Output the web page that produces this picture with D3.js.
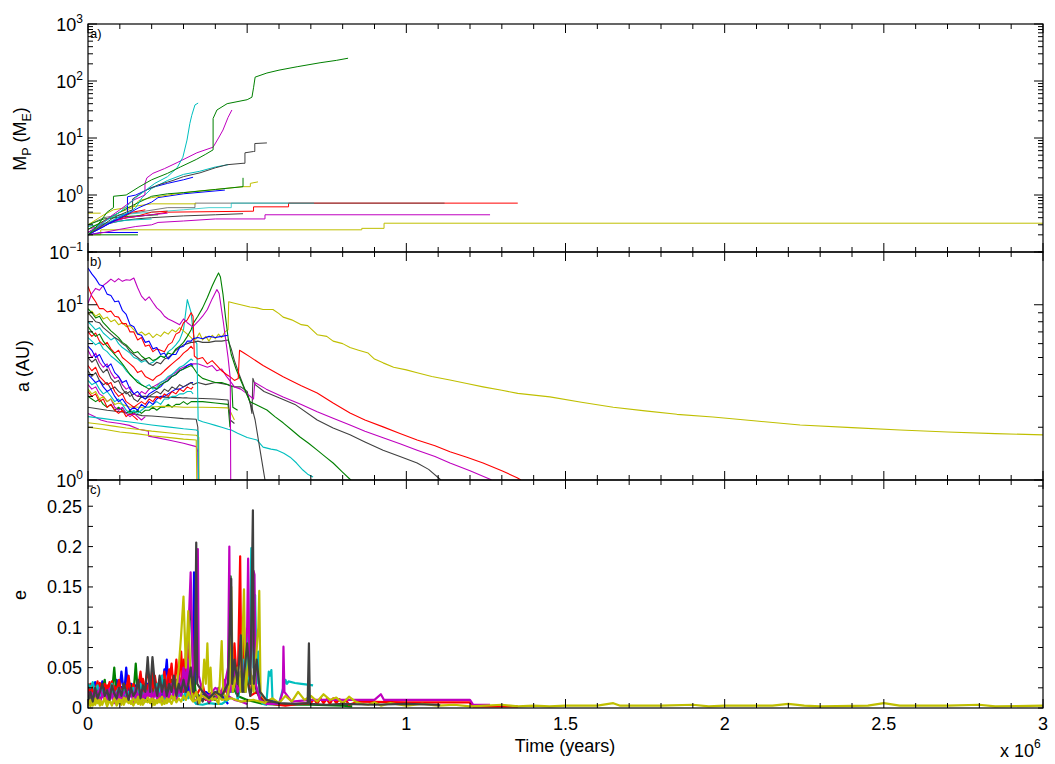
<!DOCTYPE html>
<html>
<head>
<meta charset="utf-8">
<style>
  body { margin: 0; background: #fff; }
  text { font-family: "Liberation Sans", Arial, Helvetica, sans-serif; fill: #000; }
</style>
</head>
<body>
<svg id="fig" width="1055" height="764"></svg>
<script src="https://d3js.org/d3.v7.min.js"></script>
<script>

// ---------- colours (old matlab colour order) ----------
var C = { b: "#0000ff", g: "#008000", r: "#ff0000", c: "#00bfbf", m: "#bf00bf", y: "#bfbf00", k: "#404040" };

// ---------- panel a: planet mass (earth masses) vs time (x 10^6 yr) ----------
var mGreenGiant = [[0,0.2],[0.02,0.25],[0.04,0.35],[0.06,0.5],[0.08,0.6],[0.08,0.95],[0.12,1.0],[0.16,1.38],[0.2,1.85],[0.25,2.4],[0.29,3.1],[0.34,4.2],[0.37,5.2],[0.393,6.2],[0.393,22],[0.405,31],[0.437,40],[0.5,47],[0.515,52],[0.52,76],[0.525,117],[0.562,138],[0.6,155],[0.657,178],[0.729,209],[0.78,230],[0.817,251]];
var mCyanGiant = [[0,0.2],[0.02,0.26],[0.04,0.3],[0.07,0.4],[0.1,0.5],[0.13,0.7],[0.15,0.9],[0.18,1.2],[0.21,1.6],[0.25,2.1],[0.28,3.0],[0.298,4.6],[0.311,9.2],[0.32,18],[0.326,25],[0.336,38],[0.346,41]];
var mMagGiant = [[0,0.22],[0.03,0.28],[0.06,0.38],[0.1,0.55],[0.14,0.8],[0.179,1.0],[0.179,1.6],[0.185,2.0],[0.204,2.4],[0.24,2.9],[0.28,3.7],[0.342,5.5],[0.393,6.9],[0.41,10],[0.424,13.8],[0.44,23],[0.452,31]];
var mGrayBig = [[0,0.2],[0.04,0.28],[0.08,0.4],[0.12,0.5],[0.14,0.55],[0.14,0.85],[0.18,1.2],[0.22,1.5],[0.267,1.8],[0.3,2.1],[0.352,2.45],[0.4,3.0],[0.437,3.4],[0.487,3.6],[0.493,3.6],[0.493,5.5],[0.52,5.8],[0.524,5.8],[0.524,8.0],[0.562,8.2]];
var mCyan2 = [[0,0.22],[0.05,0.3],[0.1,0.42],[0.13,0.5],[0.15,0.6],[0.17,0.9],[0.2,1.3],[0.25,1.8],[0.3,2.3],[0.35,2.6],[0.4,3.1],[0.44,3.4]];
var mGreen2 = [[0,0.25],[0.05,0.35],[0.1,0.5],[0.15,0.7],[0.2,0.95],[0.25,1.05],[0.3,1.1],[0.4,1.25],[0.487,1.4],[0.487,2.0]];
var mBlue1 = [[0,0.2],[0.05,0.28],[0.1,0.42],[0.124,0.47],[0.124,0.93],[0.15,1.0],[0.2,1.35],[0.25,1.6],[0.3,1.85],[0.33,2.05]];
var mBlue2 = [[0,0.2],[0.06,0.3],[0.12,0.45],[0.16,0.6],[0.2,0.75],[0.22,0.9],[0.3,1.05],[0.43,1.22]];
var mYellow1 = [[0,0.25],[0.05,0.35],[0.1,0.5],[0.14,0.6],[0.16,0.8],[0.2,0.9],[0.3,1.1],[0.4,1.25],[0.487,1.4],[0.51,1.4],[0.51,1.6],[0.534,1.7]];
var mRed1 = [[0,0.22],[0.04,0.3],[0.08,0.35],[0.12,0.4],[0.2,0.45],[0.25,0.5],[0.52,0.52],[0.52,0.62],[0.63,0.62],[0.63,0.72],[1.35,0.72]];
var mGray2 = [[0,0.3],[0.05,0.4],[0.1,0.45],[0.16,0.5],[0.25,0.6],[0.336,0.6],[0.336,0.72],[1.12,0.72]];
var mCyan3 = [[0,0.25],[0.05,0.35],[0.1,0.45],[0.2,0.5],[0.3,0.55],[0.38,0.6],[0.45,0.6],[0.45,0.72],[0.71,0.72]];
var mMag2 = [[0,0.2],[0.05,0.22],[0.1,0.25],[0.15,0.28],[0.2,0.3],[0.22,0.33],[0.3,0.35],[0.4,0.38],[0.556,0.38],[0.556,0.45],[1.263,0.45]];
var mGray3 = [[0,0.22],[0.05,0.3],[0.1,0.35],[0.15,0.38],[0.2,0.4],[0.3,0.43],[0.4,0.45],[0.487,0.47]];
var mYellowLong = [[0,0.2],[0.04,0.2],[0.04,0.245],[0.86,0.245],[0.86,0.26],[0.93,0.26],[0.93,0.32],[3.0,0.32]];
var mBlue3 = [[0,0.2],[0.04,0.22],[0.157,0.22]];
var mGreen3 = [[0,0.2],[0.157,0.2]];
var mYellow2 = [[0,0.48],[0.04,0.48]];
var mYellow3 = [[0,0.3],[0.05,0.45],[0.08,0.55],[0.12,0.6],[0.16,0.65],[0.2,0.7],[0.34,0.7]];
var mRed2 = [[0,0.22],[0.05,0.3],[0.1,0.38],[0.15,0.42],[0.2,0.5],[0.25,0.52]];
var mCyan4 = [[0,0.28],[0.06,0.32],[0.12,0.36],[0.2,0.38]];
var mGreen4 = [[0,0.3],[0.05,0.38],[0.12,0.42],[0.22,0.45]];
var mRed3 = [[0,0.2],[0.03,0.25],[0.06,0.32],[0.1,0.38],[0.14,0.5],[0.18,0.55]];
var mMag3 = [[0,0.25],[0.05,0.3],[0.12,0.4],[0.2,0.45],[0.25,0.48]];

// ---------- panel b: semi-major axis (AU) ----------
// early part of each track sampled on a shared time grid
var tB = [0,0.012,0.024,0.036,0.048,0.06,0.072,0.084,0.096,0.108,0.12,0.132,0.144,0.156,0.168,0.18,0.192,0.204,0.216,0.228,0.24,0.252,0.264,0.276,0.288,0.3,0.312,0.324,0.33];

var aBlueA = [16.2,15.0,14.1,13.0,12.8,11.5,11.3,10.4,10.5,9.3, 8.8,7.7,7.5,6.8,6.7,6.1,6.2,5.6,5.7,5.2, 5.3,4.9,5.2,5.2,5.7,5.8,6.2,6.2,6.4];
var aBlueATail = [[0.345,6.5],[0.36,6.4],[0.38,6.6],[0.4,6.5],[0.42,6.6],[0.44,6.7]];
var aMagA = [10.2,11.6,12.4,12.1,12.9,13.4,14.0,13.5,14.1,13.6, 13.9,13.8,14.2,12.5,11.2,10.6,11.1,10.3,9.6,9.2, 8.6,8.3,8.1,7.9,7.7,8.3,7.9,7.6,7.5];
var aMagATail = [[0.345,8.0],[0.36,8.6],[0.375,9.4],[0.39,10.8],[0.405,12.2],[0.412,11.6],[0.425,8.0],[0.44,5.0],[0.447,3.8],[0.449,0.5]];
var aRedA = [12.7,11.2,10.4,9.5,9.5,9.1,9.2,8.6,8.5,7.8, 7.8,7.0,7.0,6.3,6.5,5.8,5.9,5.4,5.6,5.5, 5.4,5.9,6.1,6.8,7.0,7.9,8.2,9.0,8.6];
var aRedATail = [[0.334,5.1],[0.345,4.9],[0.36,5.0],[0.375,4.6],[0.39,4.8],[0.405,4.5],[0.42,4.2],[0.435,4.0],[0.445,3.9],[0.46,3.7],[0.472,3.8],[0.476,5.5],[0.49,5.3],[0.509,5.04],[0.55,4.5],[0.613,3.88],[0.67,3.45],[0.72,3.14],[0.77,2.75],[0.823,2.41],[0.87,2.2],[0.927,2.01],[0.98,1.84],[1.034,1.69],[1.09,1.57],[1.137,1.45],[1.19,1.35],[1.241,1.25],[1.3,1.13],[1.348,1.03],[1.36,1.0]];
var aGreenA = [9.5,9.0,8.4,8.6,7.9,7.5,7.1,6.8,6.5,6.1, 5.9,5.6,5.3,5.4,5.1,4.9,5.0,4.8,4.9,5.1, 5.0,5.3,5.2,5.6,5.8,6.1,6.6,7.2,7.8];
var aGreenATail = [[0.345,8.6],[0.36,9.6],[0.375,11.0],[0.39,12.8],[0.4,14.0],[0.41,15.2],[0.416,14.4],[0.424,11.5],[0.432,8.5],[0.44,6.5],[0.45,5.2],[0.465,4.3],[0.48,3.7],[0.495,3.2],[0.509,2.8],[0.535,2.65],[0.562,2.51],[0.587,2.3],[0.613,2.12],[0.64,1.93],[0.666,1.76],[0.693,1.62],[0.72,1.48],[0.745,1.36],[0.77,1.25],[0.797,1.12],[0.823,1.01],[0.83,0.98]];
var aGrayA = [9.0,8.5,8.0,7.9,7.4,7.1,6.8,6.5,6.3,6.0, 5.8,5.4,5.2,5.0,4.8,4.9,4.6,4.5,4.7,4.6, 4.9,5.0,5.2,5.5,5.7,5.9,6.0,6.1,6.1];
var aGrayATail = [[0.345,6.2],[0.36,6.1],[0.38,6.1],[0.4,6.2],[0.42,6.2],[0.44,6.3],[0.45,5.6],[0.46,4.8],[0.475,4.0],[0.49,3.4],[0.505,2.9],[0.515,2.6],[0.525,2.2],[0.54,1.5],[0.556,1.0],[0.56,0.95]];
var aYellowA = [8.8,9.2,8.6,8.9,8.3,8.5,8.0,8.2,7.7,7.9, 7.5,7.6,7.2,6.8,7.0,6.7,6.9,6.5,6.8,6.6, 7.0,6.8,7.2,7.0,7.4,7.1,6.8,6.5,6.3];
var aYellowATail = [[0.34,6.4],[0.35,6.9],[0.36,6.3],[0.37,6.6],[0.38,6.2],[0.39,6.7],[0.4,6.4],[0.41,6.8],[0.42,6.5],[0.43,7.0],[0.44,7.2],[0.442,10.4],[0.46,10.2],[0.48,10.0],[0.509,9.7],[0.53,9.6],[0.55,9.4],[0.581,9.4],[0.6,8.9],[0.613,8.5],[0.64,8.2],[0.67,7.7],[0.69,7.6],[0.72,6.75],[0.75,6.6],[0.77,6.2],[0.8,6.0],[0.823,5.7],[0.85,5.5],[0.88,5.3],[0.9,4.9],[0.927,4.66],[0.96,4.4],[1.0,4.25],[1.034,4.09],[1.08,3.9],[1.137,3.72],[1.19,3.55],[1.241,3.4],[1.3,3.25],[1.35,3.12],[1.451,2.98],[1.55,2.78],[1.65,2.6],[1.75,2.48],[1.85,2.37],[1.963,2.29],[2.1,2.17],[2.237,2.06],[2.4,1.99],[2.551,1.93],[2.7,1.88],[2.85,1.84],[3.0,1.81]];
var aCyanA = [8.0,7.6,7.2,7.4,6.9,6.6,6.3,6.5,6.0,5.7, 5.5,5.3,5.0,4.9,4.7,4.8,4.6,4.7,4.9,5.1, 5.0,5.4,5.6,5.9,6.3,7.2,10.7,9.0,7.0];
var aCyanATail = [[0.336,6.2],[0.342,6.0],[0.346,2.2],[0.36,2.15],[0.38,2.1],[0.4,2.05],[0.42,2.0],[0.44,1.95],[0.45,1.93],[0.47,1.85],[0.5,1.75],[0.531,1.69],[0.55,1.54],[0.575,1.5],[0.594,1.48],[0.615,1.42],[0.635,1.35],[0.655,1.25],[0.675,1.14],[0.69,1.08],[0.707,1.04]];
var aGreenB = [7.5,7.0,6.6,6.8,6.2,5.8,5.5,5.2,4.9,4.6, 4.3,4.0,3.8,3.6,3.5,3.4,3.3,3.4,3.3,3.5, 3.6,3.7,3.9,4.0,4.2,4.3,4.4,4.5,4.4];
var aGreenBTail = [[0.345,4.0],[0.36,3.8],[0.38,3.7],[0.4,3.6],[0.42,3.6],[0.44,3.5],[0.452,3.4],[0.455,2.6],[0.47,2.5]];
var aRedB = [7.0,6.6,6.9,6.2,5.9,6.1,5.6,5.3,5.5,5.0, 4.8,4.6,4.4,4.1,4.2,3.9,3.8,3.7,3.9,4.0, 4.2,4.4,4.6,4.8,5.0,5.3,5.5,5.8,5.6];
var aCyanB = [6.5,6.2,5.9,6.1,5.6,5.4,5.1,4.9,4.7,4.5, 4.2,4.0,3.8,3.7,3.5,3.4,3.5,3.3,3.4,3.6, 3.7,3.9,4.0,4.2,4.4,4.5,4.7,4.9,4.8];
var aBlueB = [5.8,5.5,5.0,5.2,4.7,4.4,4.6,4.1,3.9,3.6, 3.7,3.3,3.1,3.2,3.0,2.9,3.1,3.2,3.3,3.4, 3.6,3.7,3.9,4.0,4.2,4.3,4.5,4.6,4.5];
var aMagB = [5.5,5.0,5.3,4.7,4.4,4.6,4.1,3.8,3.9,3.5, 3.3,3.4,3.1,3.0,3.2,3.1,3.3,3.4,3.5,3.6, 3.7,3.8,4.0,4.1,4.3,4.4,4.5,4.6,4.6];
var aMagBTail = [[0.345,4.6],[0.36,4.5],[0.375,4.4],[0.39,4.5],[0.405,4.2],[0.42,4.3],[0.435,3.9],[0.445,3.7],[0.46,3.4],[0.48,3.3],[0.5,3.1],[0.52,2.9],[0.524,3.6],[0.56,3.3],[0.613,2.98],[0.67,2.7],[0.72,2.45],[0.77,2.25],[0.823,2.06],[0.87,1.9],[0.927,1.74],[0.98,1.61],[1.034,1.48],[1.09,1.36],[1.137,1.25],[1.2,1.13],[1.263,1.01],[1.27,0.99]];
var aGrayB = [5.0,4.7,4.9,4.4,4.1,4.3,3.8,3.6,3.7,3.3, 3.1,3.2,2.9,2.8,3.0,2.9,3.0,3.1,3.2,3.1, 3.3,3.2,3.4,3.3,3.5,3.4,3.5,3.6,3.5];
var aGrayBTail = [[0.345,3.6],[0.37,3.5],[0.4,3.6],[0.44,3.5],[0.46,3.4],[0.48,3.4],[0.5,3.2],[0.51,2.7],[0.515,2.4],[0.518,3.8],[0.525,3.5],[0.553,3.2],[0.6,2.95],[0.65,2.7],[0.72,2.2],[0.77,1.98],[0.823,1.81],[0.87,1.65],[0.927,1.48],[0.98,1.36],[1.034,1.25],[1.07,1.15],[1.106,1.01],[1.11,0.99]];
var aRedC = [4.5,4.2,4.4,3.9,3.7,3.5,3.6,3.2,3.0,3.1, 2.8,2.7,2.6,2.7,2.8,2.7,2.9,2.8,3.0,2.9, 3.1,3.0,3.2,3.1,3.3,3.2,3.4,3.3,3.4];
var aBlueC = [4.0,3.8,3.6,3.7,3.4,3.2,3.3,3.0,2.8,2.9, 2.7,2.5,2.6,2.5,2.7,2.6,2.8,2.7,2.9,3.0, 3.0,3.1,3.2,3.3,3.3,3.4,3.5,3.6,3.6];
var aCyanC = [3.7,3.5,3.6,3.3,3.1,3.2,3.0,2.8,2.9,2.7, 2.5,2.4,2.5,2.4,2.5,2.6,2.6,2.7,2.8,2.7, 2.9,2.9,3.0,3.0,3.1,3.1,3.2,3.2,3.1];
var aMagC = [3.5,3.3,3.4,3.1,3.0,2.8,2.9,2.6,2.5,2.6, 2.4,2.3,2.4,2.3,2.2,2.3];
var aRedD = [3.2,3.0,3.1,2.8,2.9,2.6,2.7,2.5,2.4,2.5, 2.3,2.4,2.3,2.2];
var aGreenC = [3.0,2.9,2.8,2.9,2.7,2.6,2.7,2.5,2.6,2.5, 2.4,2.5,2.4,2.5,2.4,2.5,2.5,2.6,2.5,2.6, 2.6,2.7,2.6,2.7,2.7,2.8,2.7,2.8,2.8];
var aGreenCTail = [[0.36,2.8],[0.4,2.75],[0.44,2.7],[0.446,2.0]];
var aGrayM = [4.2,3.9,4.1,3.7,3.5,3.6,3.3,3.4,3.2,3.1, 3.2,3.0,3.1,3.0,3.0,3.0,2.99,2.98,2.98,2.97, 2.97,2.96,2.96,2.95,2.95,2.94,2.94,2.93,2.93];
var aGrayMTail = [[0.36,2.92],[0.4,2.9],[0.44,2.86],[0.447,2.2],[0.46,2.1]];
var aYellowM = [3.3,3.1,3.2,2.9,3.0,2.8,2.9,2.7,2.75,2.7, 2.65,2.6,2.62,2.6,2.6,2.6,2.61,2.62,2.62,2.63, 2.63,2.62,2.62,2.62,2.61,2.6,2.6,2.6,2.6];
var aYellowMTail = [[0.36,2.6],[0.4,2.59],[0.44,2.58],[0.45,2.4],[0.46,2.2]];
// slow, quiet inner tracks
var aCyanL = [[0,2.3],[0.05,2.24],[0.1,2.18],[0.15,2.12],[0.2,2.06],[0.25,2.01],[0.3,1.96],[0.34,1.93],[0.346,1.9],[0.348,0.5]];
var aYellowL1 = [[0,2.12],[0.04,2.08],[0.08,2.03],[0.12,1.98],[0.16,1.94],[0.2,1.9],[0.25,1.86],[0.3,1.82],[0.34,1.8],[0.348,1.75],[0.35,0.5]];
var aYellowL2 = [[0,2.0],[0.05,1.95],[0.1,1.88],[0.15,1.84],[0.2,1.79],[0.25,1.75],[0.3,1.71],[0.34,1.69],[0.344,0.5]];
var aMagL = [[0,2.4],[0.02,2.3],[0.04,2.2],[0.06,2.15],[0.1,2.1],[0.13,2.05],[0.16,1.95],[0.19,1.9],[0.19,1.78],[0.22,1.74],[0.26,1.68],[0.3,1.62],[0.34,1.55],[0.345,1.45],[0.347,0.5]];
var aGrayL = [[0,2.6],[0.03,2.55],[0.06,2.5],[0.1,2.45],[0.14,2.4],[0.17,2.33],[0.2,2.32],[0.25,2.28],[0.3,2.24],[0.34,2.22],[0.345,2.0],[0.35,0.5]];

// ---------- panel c: eccentricity ----------
var tC = [0,0.0075,0.015,0.0225,0.03,0.0375,0.045,0.0525,0.06,0.0675, 0.075,0.0825,0.09,0.0975,0.105,0.1125,0.12,0.1275,0.135,0.1425, 0.15,0.1575,0.165,0.1725,0.18,0.1875,0.195,0.2025,0.21,0.2175, 0.225,0.2325,0.24,0.2475,0.255,0.2625,0.27,0.2775,0.285,0.2925, 0.3,0.3075,0.315,0.3225,0.33];

var eBlue = [0.025,0.012,0.03,0.018,0.028,0.01,0.033,0.02,0.015,0.03, 0.022,0.012,0.035,0.018,0.026,0.01,0.05,0.015,0.03,0.02, 0.028,0.012,0.034,0.02,0.015,0.03,0.025,0.01,0.032,0.018, 0.03,0.015,0.028,0.06,0.012,0.03,0.02,0.035,0.015,0.025, 0.02,0.03,0.015,0.05,0.02];
var eBlueTail = [[0.333,0.168],[0.336,0.02],[0.35,0.012],[0.37,0.02],[0.39,0.015],[0.41,0.022],[0.43,0.01],[0.44,0.005]];
var eBlue2 = [0.018,0.028,0.012,0.032,0.02,0.025,0.015,0.03,0.022,0.01, 0.027,0.019,0.033,0.014,0.045,0.02,0.028,0.012,0.03,0.022, 0.016,0.034,0.02,0.026,0.012,0.03,0.018,0.035,0.02,0.015, 0.028,0.022,0.048,0.015,0.03,0.02,0.036,0.012,0.025,0.018, 0.03,0.015,0.04,0.02,0.01];
var eGreen = [0.02,0.008,0.025,0.015,0.03,0.012,0.022,0.035,0.01,0.028, 0.018,0.05,0.012,0.025,0.015,0.03,0.02,0.01,0.028,0.015, 0.055,0.012,0.03,0.02,0.025,0.01,0.03,0.018,0.035,0.015, 0.022,0.03,0.012,0.025,0.02,0.035,0.015,0.028,0.04,0.02, 0.045,0.03,0.1,0.13,0.05];
var eGreenTail = [[0.338,0.02],[0.36,0.01],[0.38,0.015],[0.4,0.01],[0.42,0.02],[0.44,0.03],[0.446,0.08],[0.448,0.163],[0.45,0.03],[0.47,0.015],[0.5,0.01],[0.55,0.005],[0.6,0.004],[0.7,0.004],[0.8,0.003],[0.83,0.002]];
var eRed = [0.03,0.015,0.028,0.02,0.033,0.012,0.025,0.03,0.018,0.032, 0.015,0.027,0.02,0.035,0.015,0.03,0.022,0.04,0.015,0.03, 0.02,0.025,0.045,0.018,0.03,0.05,0.015,0.03,0.04,0.02, 0.035,0.025,0.045,0.015,0.03,0.055,0.02,0.06,0.025,0.07, 0.02,0.068,0.03,0.05,0.02];
var eRedTail = [[0.34,0.015],[0.36,0.03],[0.37,0.01],[0.39,0.02],[0.41,0.015],[0.43,0.02],[0.45,0.03],[0.46,0.08],[0.47,0.02],[0.478,0.188],[0.482,0.03],[0.49,0.1],[0.495,0.02],[0.5,0.06],[0.51,0.015],[0.53,0.02],[0.55,0.01],[0.58,0.005],[0.62,0.003],[0.66,0.005],[0.7,0.006],[0.71,0.011],[0.72,0.005],[0.73,0.012],[0.74,0.006],[0.75,0.011],[0.76,0.005],[0.77,0.012],[0.78,0.006],[0.79,0.011],[0.8,0.005],[0.81,0.01],[0.82,0.004],[0.85,0.008],[1.0,0.007],[1.2,0.007],[1.21,0.002],[1.35,0.002]];
var eRed2 = [0.022,0.03,0.016,0.026,0.012,0.031,0.02,0.014,0.028,0.018, 0.033,0.013,0.024,0.03,0.017,0.027,0.012,0.034,0.02,0.025, 0.014,0.03,0.02,0.036,0.015,0.028,0.022,0.045,0.018,0.03, 0.015,0.038,0.02,0.03,0.048,0.02,0.035,0.015,0.04,0.025, 0.06,0.03,0.072,0.025,0.015];
var eCyan = [0.03,0.025,0.032,0.02,0.028,0.015,0.025,0.01,0.022,0.018, 0.03,0.012,0.02,0.025,0.015,0.028,0.01,0.02,0.015,0.025, 0.01,0.02,0.03,0.012,0.022,0.015,0.025,0.01,0.02,0.03, 0.015,0.04,0.01,0.02,0.015,0.025,0.01,0.02,0.015,0.025, 0.01,0.02,0.012,0.015,0.01];
var eCyanTail = [[0.34,0.005],[0.36,0.004],[0.38,0.006],[0.4,0.005],[0.42,0.005],[0.44,0.01],[0.445,0.06],[0.45,0.02],[0.46,0.05],[0.47,0.01],[0.48,0.03],[0.49,0.06],[0.495,0.02],[0.5,0.09],[0.505,0.03],[0.51,0.12],[0.513,0.198],[0.516,0.16],[0.52,0.05],[0.525,0.14],[0.53,0.03],[0.535,0.07],[0.54,0.01],[0.55,0.005],[0.56,0.004],[0.568,0.045],[0.572,0.04],[0.576,0.047],[0.58,0.005],[0.6,0.005],[0.61,0.02],[0.62,0.035],[0.625,0.03],[0.63,0.033],[0.65,0.031],[0.67,0.03],[0.69,0.029],[0.707,0.028]];
var eMag = [0.015,0.02,0.01,0.022,0.012,0.025,0.015,0.018,0.01,0.024, 0.014,0.02,0.01,0.025,0.012,0.018,0.022,0.01,0.02,0.015, 0.025,0.012,0.02,0.01,0.022,0.015,0.03,0.012,0.02,0.025, 0.01,0.028,0.015,0.02,0.012,0.03,0.015,0.025,0.04,0.02, 0.05,0.03,0.09,0.168,0.04];
var eMagTail = [[0.336,0.05],[0.34,0.15],[0.345,0.197],[0.348,0.04],[0.36,0.02],[0.38,0.015],[0.4,0.025],[0.42,0.02],[0.43,0.03],[0.44,0.05],[0.444,0.2],[0.447,0.02],[0.46,0.05],[0.47,0.02],[0.49,0.04],[0.5,0.1],[0.503,0.185],[0.507,0.04],[0.515,0.08],[0.52,0.17],[0.523,0.165],[0.527,0.03],[0.54,0.01],[0.56,0.005],[0.6,0.005],[0.612,0.02],[0.614,0.076],[0.617,0.02],[0.64,0.008],[0.7,0.01],[0.8,0.01],[0.9,0.01],[0.92,0.017],[0.93,0.01],[1.0,0.01],[1.2,0.01],[1.21,0.004],[1.263,0.004]];
var eMag2 = [0.012,0.006,0.018,0.009,0.02,0.007,0.016,0.011,0.022,0.008, 0.017,0.006,0.019,0.01,0.021,0.008,0.015,0.012,0.02,0.007, 0.018,0.01,0.022,0.009,0.016,0.012,0.021,0.008,0.019,0.011, 0.017,0.007,0.02,0.01,0.018,0.012,0.022,0.009,0.025,0.015, 0.03,0.02,0.06,0.02,0.01];
var eMag2Tail = [[0.34,0.01],[0.36,0.015],[0.38,0.008],[0.4,0.012],[0.42,0.02],[0.43,0.035],[0.44,0.015],[0.46,0.01],[0.48,0.008],[0.5,0.005]];
var eYellow = [0.005,0.01,0.003,0.012,0.006,0.01,0.004,0.013,0.007,0.01, 0.003,0.012,0.006,0.011,0.004,0.013,0.008,0.01,0.005,0.012, 0.007,0.014,0.004,0.011,0.008,0.013,0.006,0.012,0.004,0.01, 0.007,0.014,0.005,0.012,0.008,0.015,0.01,0.02,0.05,0.09, 0.138,0.05,0.12,0.03,0.01];
var eYellowTail = [[0.34,0.02],[0.35,0.006],[0.36,0.025],[0.365,0.06],[0.37,0.03],[0.375,0.08],[0.38,0.02],[0.385,0.05],[0.39,0.01],[0.4,0.012],[0.41,0.005],[0.415,0.04],[0.42,0.083],[0.425,0.02],[0.435,0.01],[0.445,0.03],[0.45,0.15],[0.455,0.02],[0.47,0.05],[0.48,0.02],[0.49,0.147],[0.495,0.02],[0.505,0.06],[0.52,0.02],[0.535,0.1],[0.538,0.145],[0.542,0.02],[0.56,0.008],[0.58,0.012],[0.6,0.006],[0.62,0.015],[0.64,0.008],[0.66,0.02],[0.68,0.01],[0.7,0.015],[0.72,0.008],[0.74,0.017],[0.76,0.01],[0.78,0.013],[0.8,0.006],[0.82,0.014],[0.84,0.008],[0.86,0.005],[0.88,0.004],[0.9,0.007],[0.92,0.003],[0.95,0.006],[0.98,0.004],[1.0,0.003],[1.05,0.005],[1.1,0.003],[1.15,0.004],[1.2,0.002],[1.25,0.003],[1.3,0.004],[1.35,0.002],[1.4,0.003],[1.45,0.002],[1.5,0.003],[1.6,0.003],[1.65,0.006],[1.67,0.003],[1.8,0.003],[1.9,0.004],[1.95,0.002],[2.0,0.003],[2.15,0.003],[2.2,0.005],[2.25,0.003],[2.3,0.002],[2.45,0.003],[2.5,0.006],[2.55,0.003],[2.7,0.003],[2.8,0.004],[2.85,0.002],[3.0,0.003]];
var eYellow2 = [0.008,0.002,0.009,0.004,0.011,0.003,0.007,0.01,0.002,0.009, 0.005,0.011,0.003,0.008,0.01,0.004,0.012,0.006,0.009,0.003, 0.01,0.005,0.012,0.004,0.009,0.007,0.011,0.003,0.01,0.006, 0.012,0.004,0.009,0.006,0.011,0.005,0.013,0.007,0.012,0.008, 0.015,0.01,0.02,0.012,0.008];
var eYellow2Tail = [[0.34,0.01],[0.36,0.015],[0.38,0.01],[0.4,0.02],[0.42,0.01],[0.45,0.012],[0.48,0.008],[0.52,0.01],[0.56,0.006]];
var eGray = [0.01,0.02,0.008,0.025,0.012,0.02,0.03,0.015,0.022,0.01, 0.028,0.018,0.012,0.025,0.015,0.03,0.02,0.01,0.025,0.015, 0.02,0.035,0.012,0.028,0.02,0.063,0.02,0.063,0.03,0.015, 0.04,0.02,0.035,0.015,0.03,0.02,0.04,0.015,0.03,0.02, 0.035,0.02,0.03,0.05,0.02];
var eGrayTail = [[0.336,0.05],[0.34,0.205],[0.343,0.03],[0.36,0.02],[0.38,0.012],[0.4,0.02],[0.42,0.015],[0.44,0.03],[0.45,0.16],[0.453,0.03],[0.46,0.06],[0.47,0.03],[0.48,0.09],[0.485,0.02],[0.5,0.08],[0.51,0.03],[0.518,0.245],[0.521,0.03],[0.53,0.06],[0.54,0.02],[0.56,0.01],[0.6,0.006],[0.65,0.005],[0.69,0.006],[0.694,0.08],[0.697,0.005],[0.75,0.004],[0.8,0.005],[0.9,0.004],[1.0,0.005],[1.1,0.004],[1.106,0.003]];
var eGray2 = [[0.33,0.01],[0.34,0.02],[0.345,0.005],[0.35,0.015],[0.36,0.008],[0.37,0.018],[0.38,0.006],[0.39,0.02],[0.4,0.01],[0.41,0.025],[0.42,0.012],[0.43,0.03],[0.44,0.015],[0.45,0.05],[0.455,0.02],[0.46,0.04],[0.47,0.015],[0.48,0.045],[0.49,0.02],[0.5,0.035],[0.51,0.015],[0.52,0.04],[0.53,0.02],[0.54,0.012],[0.55,0.008],[0.57,0.006],[0.6,0.005]];

// ---------- helpers to join a gridded early part with its tail ----------
function track(grid, vals, tail) {
  var pts = vals.map(function(v, i) { return [grid[i], v]; });
  return tail ? pts.concat(tail) : pts;
}

var massLines = [
  [mYellowLong, C.y], [mGreen3, C.g], [mBlue3, C.b], [mYellow2, C.y],
  [mRed1, C.r], [mGray2, C.k, 0.7], [mCyan3, C.c, 0.7],
  [mMag2, C.m], [mGray3, C.k], [mYellow3, C.y], [mRed2, C.r], [mCyan4, C.c],
  [mGreen4, C.g], [mRed3, C.r], [mMag3, C.m],
  [mBlue2, C.b], [mYellow1, C.y], [mGreen2, C.g], [mBlue1, C.b], [mCyan2, C.c],
  [mGrayBig, C.k], [mMagGiant, C.m], [mCyanGiant, C.c], [mGreenGiant, C.g]
];

var axisLines = [
  [aGrayL, C.k], [aMagL, C.m], [aYellowL2, C.y], [aYellowL1, C.y], [aCyanL, C.c],
  [track(tB, aGreenC, aGreenCTail), C.g], [track(tB, aRedD), C.r], [track(tB, aMagC), C.m],
  [track(tB, aYellowM, aYellowMTail), C.y], [track(tB, aGrayM, aGrayMTail), C.k],
  [track(tB, aCyanC), C.c], [track(tB, aBlueC), C.b], [track(tB, aRedC), C.r],
  [track(tB, aGrayB, aGrayBTail), C.k], [track(tB, aMagB, aMagBTail), C.m],
  [track(tB, aBlueB), C.b], [track(tB, aCyanB), C.c], [track(tB, aRedB), C.r],
  [track(tB, aGreenB, aGreenBTail), C.g], [track(tB, aCyanA, aCyanATail), C.c],
  [track(tB, aYellowA, aYellowATail), C.y], [track(tB, aGrayA, aGrayATail), C.k],
  [track(tB, aGreenA, aGreenATail), C.g], [track(tB, aRedA, aRedATail), C.r],
  [track(tB, aMagA, aMagATail), C.m], [track(tB, aBlueA, aBlueATail), C.b]
];

var eccLines = [
  [track(tC, eBlue, eBlueTail), C.b], [track(tC, eBlue2), C.b], [track(tC, eGreen, eGreenTail), C.g],
  [track(tC, eRed, eRedTail), C.r], [track(tC, eRed2), C.r], [track(tC, eCyan, eCyanTail), C.c],
  [eGray2, C.k], [track(tC, eMag, eMagTail), C.m], [track(tC, eMag2, eMag2Tail), C.m],
  [track(tC, eYellow, eYellowTail), C.y], [track(tC, eYellow2, eYellow2Tail), C.y],
  [track(tC, eGray, eGrayTail), C.k]
];

// ---------- layout ----------
var svg = d3.select("#fig");
var L = 88, R = 1043;
var x = d3.scaleLinear().domain([0, 3]).range([L, R]);

var panels = [
  { tag: "a)", top: 24, bottom: 252, y: d3.scaleLog().domain([0.1, 1000]).range([252, 24]), lines: massLines, sw: 1 },
  { tag: "b)", top: 252, bottom: 480, y: d3.scaleLog().domain([1, 20]).range([480, 252]), lines: axisLines, sw: 1.1 },
  { tag: "c)", top: 480, bottom: 708, y: d3.scaleLinear().domain([0, 0.2825]).range([708, 480]), lines: eccLines, sw: 2.2 }
];

panels.forEach(function(p, i) {
  var clipId = "clip" + i;
  svg.append("clipPath").attr("id", clipId)
    .append("rect").attr("x", L).attr("y", p.top).attr("width", R - L).attr("height", p.bottom - p.top);

  var line = d3.line()
    .x(function(d) { return x(d[0]); })
    .y(function(d) { return p.y(d[1]); });

  svg.append("g")
      .attr("clip-path", "url(#" + clipId + ")")
      .attr("fill", "none")
      .attr("stroke-linejoin", "round")
    .selectAll("path")
    .data(p.lines)
    .enter().append("path")
      .attr("d", function(d) { return line(d[0]); })
      .attr("stroke", function(d) { return d[1]; })
      .attr("stroke-opacity", function(d) { return d[2] || 1; })
      .attr("stroke-width", p.sw);
});

// ---------- ticks ----------
var tickG = svg.append("g").attr("stroke", "#000").attr("stroke-width", 1);

panels.forEach(function(p) {
  // time ticks, top and bottom of every panel
  d3.range(0, 31).forEach(function(i) {
    var px = x(i / 10), len = (i % 5 === 0) ? 9 : 5;
    tickG.append("line").attr("x1", px).attr("x2", px).attr("y1", p.top).attr("y2", p.top + len);
    tickG.append("line").attr("x1", px).attr("x2", px).attr("y1", p.bottom).attr("y2", p.bottom - len);
  });
});

function yTick(py, len) {
  tickG.append("line").attr("x1", L).attr("x2", L + len).attr("y1", py).attr("y2", py);
  tickG.append("line").attr("x1", R).attr("x2", R - len).attr("y1", py).attr("y2", py);
}

[panels[0], panels[1]].forEach(function(p) {
  var dom = p.y.domain();
  var lo = Math.floor(Math.log10(dom[0])), hi = Math.ceil(Math.log10(dom[1]));
  for (var e = lo; e <= hi; e++) {
    for (var k = 1; k <= 9; k++) {
      var v = k * Math.pow(10, e);
      if (v < dom[0] * 0.999 || v > dom[1] * 1.001) continue;
      yTick(p.y(v), k === 1 ? 9 : 5);
    }
  }
});
d3.range(0, 12).forEach(function(i) {
  yTick(panels[2].y(i * 0.025), 5);
});

// ---------- frames ----------
panels.forEach(function(p) {
  svg.append("rect").attr("x", L).attr("y", p.top).attr("width", R - L).attr("height", p.bottom - p.top)
    .attr("fill", "none").attr("stroke", "#000").attr("stroke-width", 1.2);
  svg.append("text").attr("x", 90).attr("y", p.top + 14).attr("font-size", 13).text(p.tag);
});

// ---------- tick labels ----------
var xLabels = [0, 0.5, 1, 1.5, 2, 2.5, 3];
svg.append("g").selectAll("text").data(xLabels).enter().append("text")
  .attr("x", function(d) { return x(d); })
  .attr("y", 730)
  .attr("text-anchor", "middle")
  .attr("font-size", 18)
  .text(function(d) { return d; });

function powLabel(py, exp) {
  var t = svg.append("text").attr("x", 83).attr("y", py + 7).attr("text-anchor", "end").attr("font-size", 18);
  t.append("tspan").text("10");
  t.append("tspan").attr("dy", -8).attr("font-size", 12).text(exp < 0 ? "\u2212" + (-exp) : String(exp));
}
[-1, 0, 1, 2, 3].forEach(function(e) { powLabel(panels[0].y(Math.pow(10, e)), e); });
[0, 1].forEach(function(e) { powLabel(panels[1].y(Math.pow(10, e)), e); });

var eLabels = [0, 0.05, 0.1, 0.15, 0.2, 0.25];
svg.append("g").selectAll("text").data(eLabels).enter().append("text")
  .attr("x", 82)
  .attr("y", function(d) { return panels[2].y(d); })
  .attr("dy", "0.36em")
  .attr("text-anchor", "end")
  .attr("font-size", 18)
  .text(function(d) { return d; });

// ---------- axis titles ----------
var yt1 = svg.append("text").attr("transform", "translate(26,139) rotate(-90)").attr("text-anchor", "middle").attr("font-size", 18);
yt1.append("tspan").text("M");
yt1.append("tspan").attr("dy", 5).attr("font-size", 12.5).text("P");
yt1.append("tspan").attr("dy", -5).text(" (M");
yt1.append("tspan").attr("dy", 5).attr("font-size", 12.5).text("E");
yt1.append("tspan").attr("dy", -5).text(")");

svg.append("text").attr("transform", "translate(29,366) rotate(-90)").attr("text-anchor", "middle")
  .attr("font-size", 18).text("a (AU)");
svg.append("text").attr("transform", "translate(26,595) rotate(-90)").attr("text-anchor", "middle")
  .attr("font-size", 18).text("e");

svg.append("text").attr("x", 565).attr("y", 752).attr("text-anchor", "middle").attr("font-size", 18).text("Time (years)");

var xs = svg.append("text").attr("x", 1000).attr("y", 757).attr("font-size", 18);
xs.append("tspan").text("x 10");
xs.append("tspan").attr("dy", -9).attr("font-size", 12).text("6");

</script>
</body>
</html>
